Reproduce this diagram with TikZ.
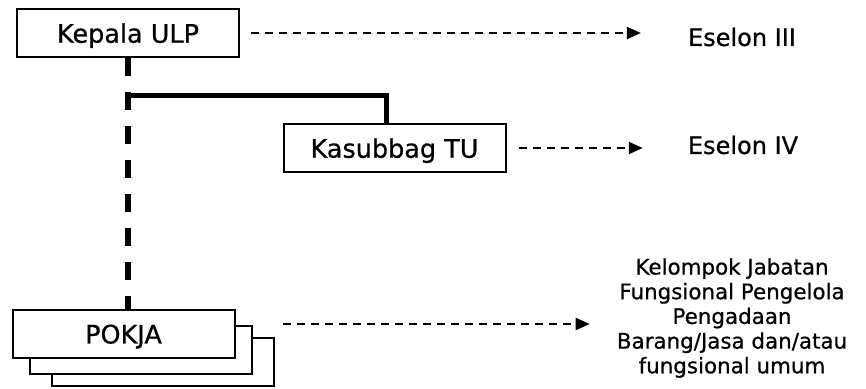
\documentclass[tikz,border=0pt]{standalone}
\usepackage{fontspec}
\setmainfont[FakeBold=0.7]{DejaVu Sans}
\usetikzlibrary{arrows.meta,positioning}

\begin{document}
\begin{tikzpicture}[x=1pt,y=-1pt,
    unitbox/.style={draw,line width=2pt,fill=white,minimum width=222pt,
                    minimum height=48pt,inner sep=0pt,text depth=0pt,
                    font=\fontsize{25.5}{30}\selectfont},
    level/.style={inner sep=0pt,font=\fontsize{24}{28}\selectfont},
    levelarrow/.style={line width=2pt,dash pattern=on 8pt off 6pt,
                       -{Triangle[length=14pt,width=12pt]}},
    bossline/.style={line width=6pt,dash pattern=on 18pt off 16pt},
    staffline/.style={line width=5pt}]

  \useasboundingbox (0,0) rectangle (866,388);

  \node[unitbox]  (kepala)   at (128,33)    {Kepala ULP};
  \node[unitbox]  (kasubbag) at (394.5,148) {Kasubbag TU};

  \node[level] (eselon3) at (742,37)  {Eselon III};
  \node[level] (eselon4) at (743,145) {Eselon IV};
  \node[level,align=center,font=\fontsize{21.4}{24.7}\selectfont]
               (fungsi)  at (732,318)
               {Kelompok Jabatan\\Fungsional Pengelola\\Pengadaan\\Barang/Jasa dan/atau\\fungsional umum};

  \coordinate (branch)   at (kepala.south |- 0,95);
  \coordinate (pokjaout) at (283,324);

  \draw[bossline]  (kepala.south) -- (kepala.south |- 0,310);
  \draw[staffline] (branch) -| ([xshift=-8pt]kasubbag.north);

  % stacked working groups
  \node[unitbox]  (pokja3) at (163,361.5) {};
  \node[unitbox]  (pokja2) at (141,350)   {};
  \node[unitbox]  (pokja1) at (123.5,334) {POKJA};

  \draw[levelarrow,shorten <=11pt,shorten >=47pt]
       (kepala.east) -- (kepala.east -| eselon3.west);
  \draw[levelarrow,shorten <=12pt,shorten >=45pt]
       (kasubbag.east) -- (kasubbag.east -| eselon4.west);
  \draw[levelarrow,shorten >=27pt]
       (pokjaout) -- (pokjaout -| fungsi.west);
\end{tikzpicture}
\end{document}
